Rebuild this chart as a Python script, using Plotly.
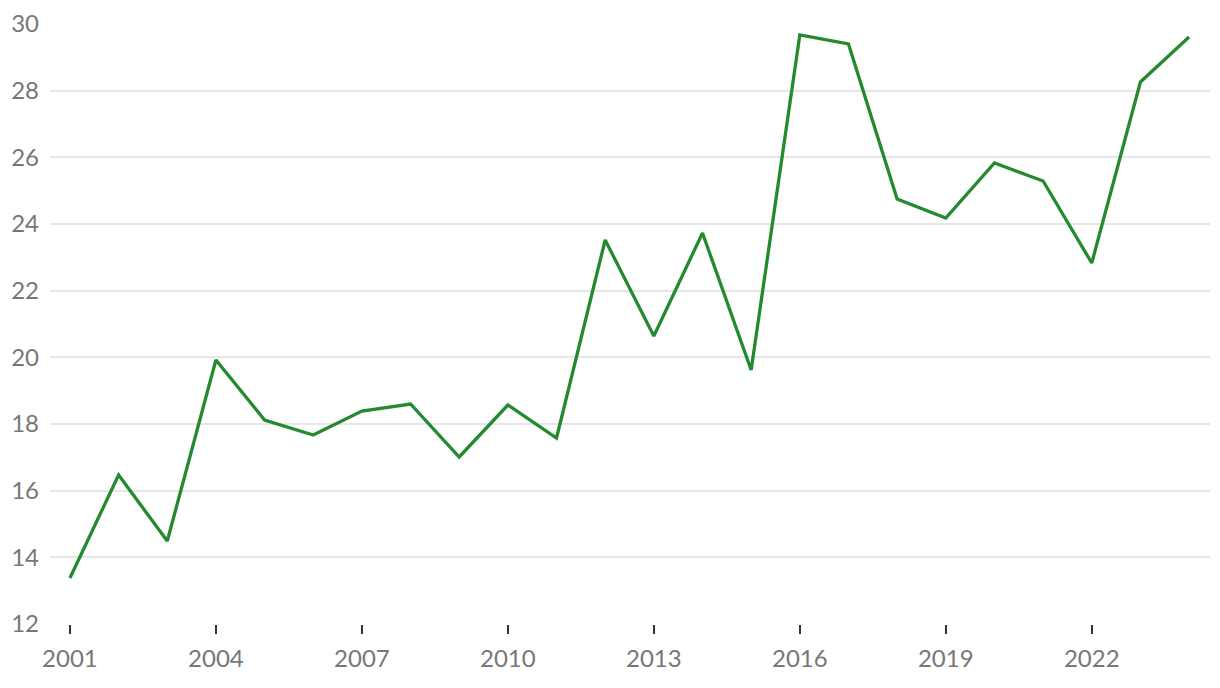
import plotly.graph_objects as go

years = list(range(2001, 2025))
values = [13.38, 16.47, 14.49, 19.92, 18.12, 17.67, 18.39, 18.6, 17.01, 18.57,
          17.58, 23.52, 20.64, 23.73, 19.62, 29.67, 29.4, 24.75, 24.18, 25.83,
          25.29, 22.83, 28.26, 29.61]
x_ticks = list(range(2001, 2025, 3))
y_ticks = list(range(12, 31, 2))

fig = go.Figure()
fig.add_trace(go.Scatter(x=years, y=values, mode="lines",
                         line=dict(color="#238a2f", width=3.3), showlegend=False,
                         hoverinfo="x+y"))

font = dict(family="Lato, 'Open Sans', sans-serif", size=24, color="#777777")
fig.update_layout(
    width=1212, height=680,
    margin=dict(l=42, r=10, t=16, b=64),
    plot_bgcolor="white", paper_bgcolor="white",
    font=font,
    xaxis=dict(range=[2000.59, 2024.43], tickvals=x_ticks, showgrid=False,
               zeroline=False, showline=False, ticks="outside", ticklen=9,
               tickwidth=2, tickcolor="#333333", tickfont=font,
               ticklabelstandoff=4, automargin=False),
    yaxis=dict(range=[12, 30], tickvals=y_ticks, showgrid=True,
               gridcolor="#e6e6e6", gridwidth=1.5, zeroline=False,
               showline=False, ticks="", ticklabelstandoff=10, tickfont=font,
               automargin=False),
)
fig.write_html("out.html")
